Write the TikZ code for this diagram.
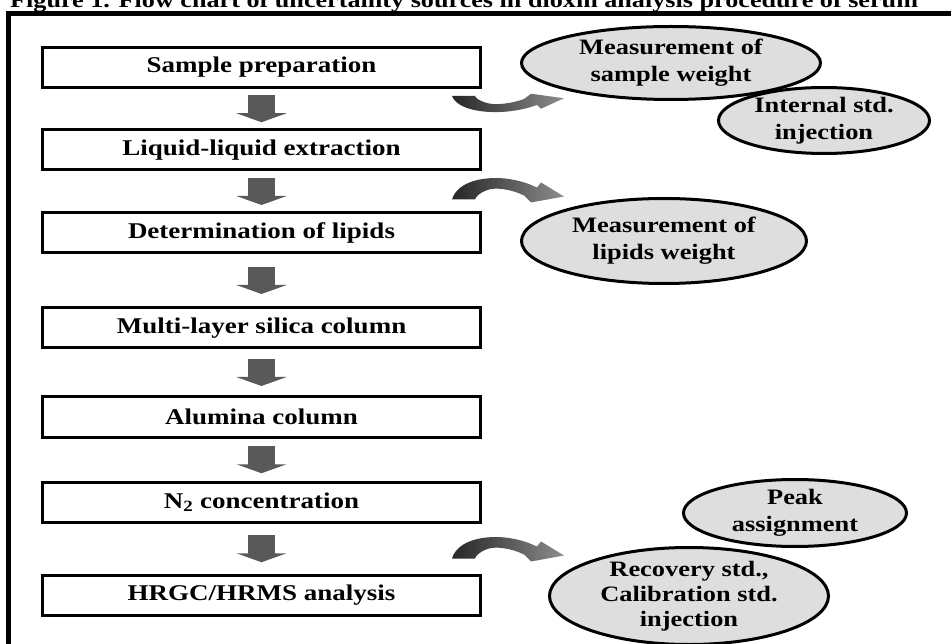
\documentclass[tikz,border=0pt]{standalone}
\usepackage{fontspec}
\setmainfont{Liberation Serif}[FakeStretch=1.2]
\usetikzlibrary{calc,shapes.geometric,arrows.meta}
\def\bentarrow[#1]#2{\begin{scope}[shift={#2},#1]
	\shade[left color=black!85, right color=black!45] (0,0) .. controls (6,-19) and (33,-23) .. (53,-21) .. controls (70,-19) and (78,-15) .. (85,-12) -- (89,-17) -- (112,-3) -- (79,3) -- (72,-4) .. controls (60,-10) and (43,-13) .. (34,-9) .. controls (27,-6) and (24,-3) .. (23,0) -- cycle;
\end{scope}}
\def\stepdown(#1)(#2){\draw[flowarrow] ($(#1.south)!0.5!(#2.north)+(0,-13.5)$) -- ($(#1.south)!0.5!(#2.north)+(0,13.5)$);}

\begin{document}
\begin{tikzpicture}[x=1pt, y=-1pt,
	stepbox/.style={draw, line width=3pt, minimum width=438pt, minimum height=40pt, inner sep=0pt, font=\fontsize{22.5}{26}\selectfont\bfseries},
	source/.style={ellipse, draw, line width=3pt, fill=black!13, inner sep=-4pt, align=center, font=\fontsize{22}{27}\selectfont\bfseries},
	flowarrow/.style={line width=27pt, draw=black!65, -{Triangle[width=50pt,length=9pt]}}]
	%%%%% frame %%%%%
	\useasboundingbox (0,0) rectangle (951,644);
	\clip (0,0) rectangle (951,644);
	\node[anchor=base west, inner sep=0pt, font=\fontsize{21.8}{24}\selectfont\bfseries] (title) at (10,7.5) {Figure 1. Flow chart of uncertainty sources in dioxin analysis procedure of serum};
	\draw[line width=4.5pt] (8.5,13.5) rectangle (990,690);
	
	%%%%% steps %%%%%
	\node[stepbox] (sprep) at (261.5,67.5) {Sample preparation};
	\node[stepbox] (lle) at (261.5,150) {Liquid-liquid extraction};
	\node[stepbox] (lipids) at (261.5,233) {Determination of lipids};
	\node[stepbox] (silica) at (261.5,328) {Multi-layer silica column};
	\node[stepbox] (alumina) at (261.5,417) {Alumina column};
	\node[stepbox] (nconc) at (261.5,502.5) {N\textsubscript{2} concentration};
	\node[stepbox] (hrgc) at (261.5,595) {HRGC/HRMS analysis};
	
	\stepdown(sprep)(lle)
	\stepdown(lle)(lipids)
	\stepdown(lipids)(silica)
	\stepdown(silica)(alumina)
	\stepdown(alumina)(nconc)
	\stepdown(nconc)(hrgc)
	
	%%%%% sources %%%%%
	\node[source, minimum width=299pt, minimum height=73pt] (msw) at (671,63) {Measurement of\\sample weight};
	\node[source, minimum width=211pt, minimum height=66pt] (istd) at (824,120.5) {Internal std.\\injection};
	\node[source, minimum width=285pt, minimum height=85pt] (mlw) at (664,241) {Measurement of\\lipids weight};
	\node[source, minimum width=223pt, minimum height=67pt] (peak) at (795,513) {Peak\\assignment};
	\node[source, minimum width=279pt, minimum height=97pt, font=\fontsize{22}{25}\selectfont\bfseries] (recstd) at (689,596) {Recovery std.,\\Calibration std.\\injection};
	
	\bentarrow[yscale=-0.75]{($(sprep.south east)+(-30,7)$)}
	\bentarrow[]{($(lipids.north east)+(-30,-12)$)}
	\bentarrow[]{($(hrgc.north east)+(-30,-15)$)}
\end{tikzpicture}
\end{document}
